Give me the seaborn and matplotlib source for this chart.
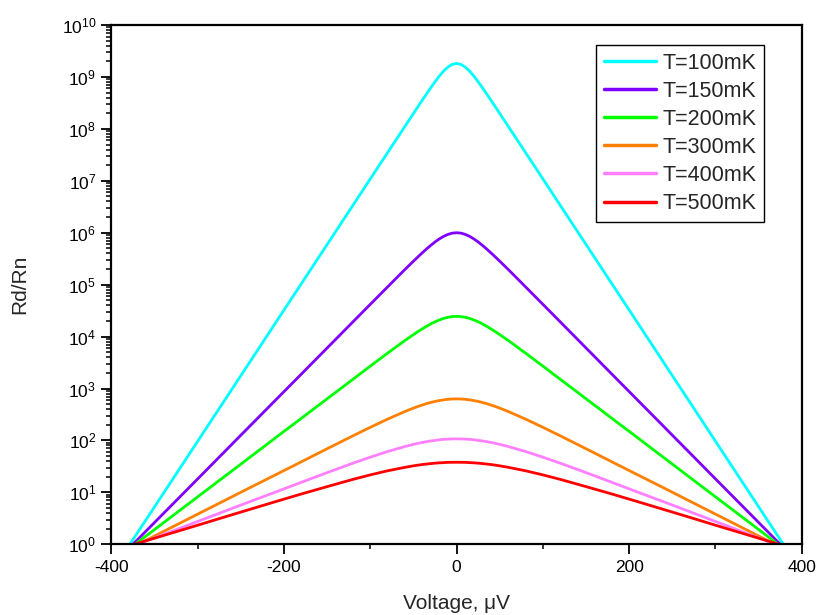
import numpy as np
import pandas as pd
import matplotlib
matplotlib.use("Agg")
import matplotlib.pyplot as plt
from matplotlib.ticker import LogLocator, MultipleLocator, NullFormatter
import seaborn as sns

# Bias voltage grid (µV), positive half; the curves are symmetric in V
voltage_half = [0, 5, 10, 15, 20, 25, 30, 35, 40, 45, 50, 60, 80, 100, 120,
                150, 180, 210, 240, 270, 300, 330, 360, 380]

# Differential resistance Rd/Rn at each bias, one list per temperature
rd_100mK = [1.82e9, 1.75e9, 1.55e9, 1.30e9, 1.04e9, 8.07e8, 6.18e8, 4.68e8,
            3.52e8, 2.65e8, 1.98e8, 1.11e8, 3.48e7, 1.09e7, 3.40e6, 5.94e5,
            1.04e5, 1.82e4, 3.17e3, 555, 96.8, 16.9, 2.96, 0.925]
rd_150mK = [1.0e6, 9.82e5, 9.29e5, 8.53e5, 7.60e5, 6.64e5, 5.70e5, 4.84e5,
            4.07e5, 3.40e5, 2.83e5, 1.95e5, 9.04e4, 4.18e4, 1.93e4, 6.04e3,
            1.89e3, 593, 186, 58.2, 18.2, 5.71, 1.79, 0.826]
rd_200mK = [2.45e4, 2.43e4, 2.35e4, 2.24e4, 2.09e4, 1.93e4, 1.75e4, 1.57e4,
            1.40e4, 1.24e4, 1.09e4, 8.38e3, 4.79e3, 2.70e3, 1.51e3, 635, 266,
            112, 46.8, 19.6, 8.21, 3.44, 1.44, 0.81]
rd_300mK = [631, 628, 619, 605, 586, 564, 538, 510, 480, 450, 419, 360, 257,
            179, 123, 69.2, 38.7, 21.7, 12.2, 6.81, 3.81, 2.13, 1.19, 0.81]
rd_400mK = [107, 107, 106, 105, 103, 100, 97.7, 94.6, 91.4, 87.8, 83.9, 76.2,
            61.1, 47.6, 36.5, 24.0, 15.6, 10.1, 6.58, 4.26, 2.75, 1.78, 1.15,
            0.86]
rd_500mK = [38.0, 37.9, 37.8, 37.4, 37.0, 36.5, 35.8, 35.1, 34.3, 33.4, 32.4,
            30.3, 26.0, 21.7, 17.8, 12.9, 9.29, 6.61, 4.68, 3.31, 2.33, 1.65,
            1.17, 0.93]

labels = ["T=100mK", "T=150mK", "T=200mK", "T=300mK", "T=400mK", "T=500mK"]
series = [rd_100mK, rd_150mK, rd_200mK, rd_300mK, rd_400mK, rd_500mK]
colors = ["#00FFFF", "#8000FF", "#00FF00", "#FF8000", "#FF80FF", "#FF0000"]

x_ticks = [-400, -200, 0, 200, 400]

# Long-form table with both bias polarities
rows = []
for lab, vals in zip(labels, series):
    for v, r in zip(voltage_half, vals):
        rows.append((lab, v, r))
        if v != 0:
            rows.append((lab, -v, r))
df = pd.DataFrame(rows, columns=["T", "V", "Rd"])

sns.set_theme(style="ticks")
plt.rcParams["font.family"] = ["Liberation Sans", "DejaVu Sans"]
plt.rcParams["mathtext.fontset"] = "custom"
plt.rcParams["mathtext.rm"] = "Liberation Sans"
plt.rcParams["mathtext.it"] = "Liberation Sans:italic"
plt.rcParams["mathtext.default"] = "regular"

fig = plt.figure(figsize=(8.19, 6.15), dpi=100)
ax = fig.add_axes([0.1361, 0.1150, 0.8428, 0.8443])

sns.lineplot(data=df, x="V", y="Rd", hue="T", hue_order=labels,
             palette=dict(zip(labels, colors)), linewidth=2.0, ax=ax,
             estimator=None, sort=True)

ax.set_yscale("log")
ax.set_xlim(-400, 400)
ax.set_ylim(1, 1e10)
ax.set_xticks(x_ticks)
ax.set_xticklabels([str(t) for t in x_ticks])
ax.xaxis.set_minor_locator(MultipleLocator(100))
ax.yaxis.set_major_locator(LogLocator(base=10, numticks=20))
ax.yaxis.set_minor_locator(LogLocator(base=10, subs=np.arange(2, 10), numticks=200))
ax.yaxis.set_minor_formatter(NullFormatter())

for side in ["left", "right", "top", "bottom"]:
    ax.spines[side].set_visible(True)
    ax.spines[side].set_linewidth(1.6)
    ax.spines[side].set_color("black")

ax.tick_params(axis="both", which="major", direction="out", length=7,
               width=1.3, labelsize=12.5, colors="black", pad=4)
ax.tick_params(axis="both", which="minor", direction="out", length=3.5,
               width=1.1, colors="black")
ax.tick_params(top=False, right=False, which="both")

ax.set_xlabel("Voltage, μV", fontsize=15)
ax.set_ylabel("Rd/Rn", fontsize=15)
ax.xaxis.set_label_coords(0.5, -(594 - 544.3) / 519.3)
ax.yaxis.set_label_coords(-(111.5 - 29) / 690.2, 0.5)

sns.move_legend(ax, "upper right", title=None,
                bbox_to_anchor=(764.3 / 819, 1 - 45 / 615),
                bbox_transform=fig.transFigure, borderaxespad=0,
                frameon=True, fancybox=False, framealpha=1,
                edgecolor="black", fontsize=15.5, handlelength=2.45,
                handletextpad=0.3, labelspacing=0.33, borderpad=0.35)
leg = ax.get_legend()
leg.get_frame().set_linewidth(1.0)
for h in leg.legend_handles:
    h.set_linewidth(2.5)

fig.savefig("out.png", dpi=100)
